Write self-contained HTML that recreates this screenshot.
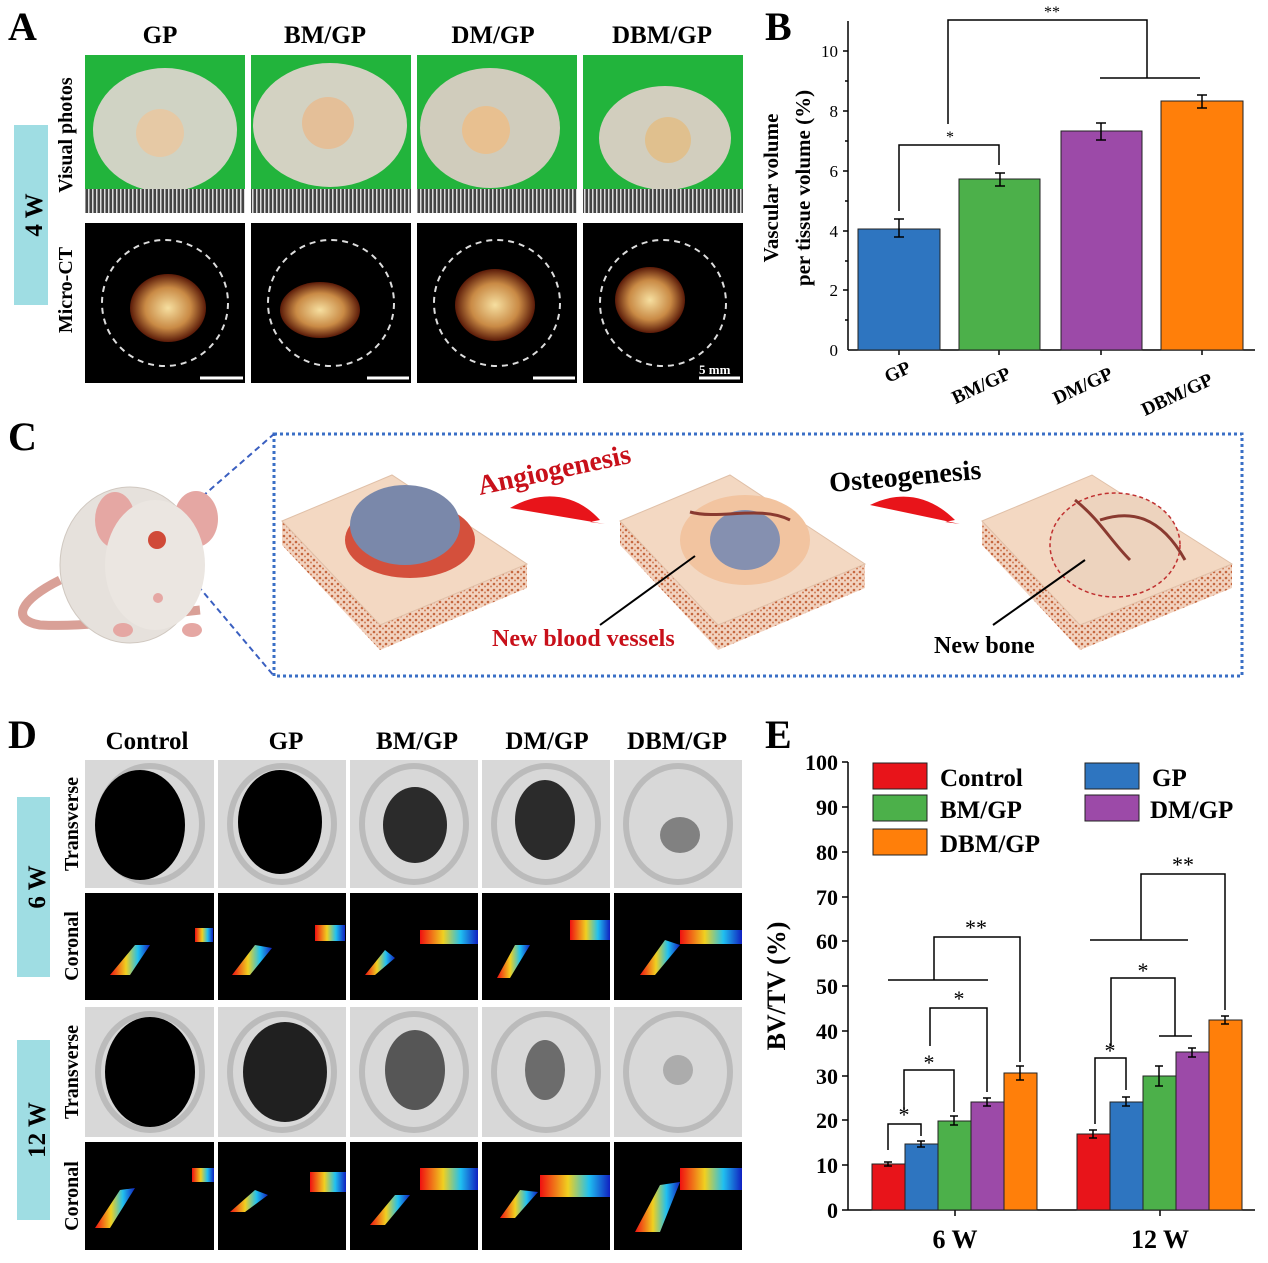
<!DOCTYPE html>
<html><head><meta charset="utf-8"><style>
body{margin:0;background:#fff}
svg{display:block;font-family:"Liberation Serif",serif}
.b{font-weight:bold}
</style></head><body>
<svg width="1268" height="1263" viewBox="0 0 1268 1263" xmlns="http://www.w3.org/2000/svg">
<defs>
<pattern id="sp" width="6" height="6" patternUnits="userSpaceOnUse"><rect width="6" height="6" fill="#f2d3c0"/><circle cx="2" cy="2" r="1.3" fill="#c5673f"/><circle cx="5" cy="4.5" r="1" fill="#d07c55"/></pattern>
<radialGradient id="bone" cx="50%" cy="50%" r="50%"><stop offset="0" stop-color="#f6dfa0"/><stop offset=".6" stop-color="#c98a45"/><stop offset="1" stop-color="#5a1a08"/></radialGradient>
<linearGradient id="jet" x1="0" x2="1"><stop offset="0" stop-color="#f01010"/><stop offset=".4" stop-color="#f0d020"/><stop offset=".7" stop-color="#20c0f0"/><stop offset="1" stop-color="#1020c0"/></linearGradient>
<pattern id="rul" width="4" height="25" patternUnits="userSpaceOnUse"><rect width="4" height="25" fill="#444"/><rect width="1.5" height="25" fill="#ddd"/></pattern>
</defs>

<!-- Panel A -->
<text x="8" y="40" font-size="40" class="b">A</text>
<g font-size="25" class="b" text-anchor="middle">
<text x="160" y="43">GP</text><text x="325" y="43">BM/GP</text><text x="493" y="43">DM/GP</text><text x="662" y="43">DBM/GP</text></g>
<rect x="14" y="125" width="34" height="180" fill="#9fdde3"/>
<text transform="translate(42,215) rotate(-90)" font-size="25" class="b" text-anchor="middle">4 W</text>
<text transform="translate(72,135) rotate(-90)" font-size="20" class="b" text-anchor="middle">Visual photos</text>
<text transform="translate(72,290) rotate(-90)" font-size="20" class="b" text-anchor="middle">Micro-CT</text>
<g>
<rect x="85" y="55" width="160" height="158" fill="#22b43c"/><rect x="251" y="55" width="160" height="158" fill="#22b43c"/><rect x="417" y="55" width="160" height="158" fill="#22b43c"/><rect x="583" y="55" width="160" height="158" fill="#22b43c"/>
<ellipse cx="165" cy="130" rx="72" ry="62" fill="#d0d3c4"/><ellipse cx="330" cy="125" rx="77" ry="62" fill="#d3d2c2"/><ellipse cx="490" cy="128" rx="70" ry="60" fill="#d0ccbc"/><ellipse cx="665" cy="138" rx="66" ry="52" fill="#d2cebe"/>
<rect x="85" y="189" width="160" height="24" fill="url(#rul)"/><rect x="251" y="189" width="160" height="24" fill="url(#rul)"/><rect x="417" y="189" width="160" height="24" fill="url(#rul)"/><rect x="583" y="189" width="160" height="24" fill="url(#rul)"/>
<circle cx="160" cy="133" r="24" fill="#e6c9a5"/><circle cx="328" cy="123" r="26" fill="#e4bf98"/><circle cx="486" cy="130" r="24" fill="#e8c090"/><circle cx="668" cy="140" r="23" fill="#e0c08e"/>
<rect x="85" y="223" width="160" height="160" fill="#000"/><rect x="251" y="223" width="160" height="160" fill="#000"/><rect x="417" y="223" width="160" height="160" fill="#000"/><rect x="583" y="223" width="160" height="160" fill="#000"/>
<g fill="none" stroke="#ddd" stroke-width="2" stroke-dasharray="6,5">
<circle cx="165" cy="303" r="63"/><circle cx="331" cy="303" r="63"/><circle cx="497" cy="303" r="63"/><circle cx="663" cy="303" r="63"/></g>
<ellipse cx="168" cy="308" rx="38" ry="34" fill="url(#bone)"/><ellipse cx="320" cy="310" rx="40" ry="28" fill="url(#bone)"/><ellipse cx="495" cy="305" rx="40" ry="36" fill="url(#bone)"/><ellipse cx="650" cy="300" rx="35" ry="33" fill="url(#bone)"/>
<g stroke="#fff" stroke-width="3"><line x1="200" y1="378" x2="243" y2="378"/><line x1="367" y1="378" x2="409" y2="378"/><line x1="533" y1="378" x2="575" y2="378"/><line x1="699" y1="378" x2="740" y2="378"/></g>
<text x="699" y="374" font-size="13" fill="#fff" class="b">5 mm</text>
</g>

<!-- Panel B -->
<text x="765" y="40" font-size="40" class="b">B</text>
<g stroke="#000" stroke-width="1.5" fill="none">
<line x1="848" y1="21" x2="848" y2="350"/><line x1="848" y1="350" x2="1255" y2="350"/>
<line x1="848" y1="51" x2="843" y2="51"/><line x1="848" y1="111" x2="843" y2="111"/><line x1="848" y1="171" x2="843" y2="171"/><line x1="848" y1="231" x2="843" y2="231"/><line x1="848" y1="290" x2="843" y2="290"/>
<line x1="848" y1="81" x2="845" y2="81"/><line x1="848" y1="141" x2="845" y2="141"/><line x1="848" y1="201" x2="845" y2="201"/><line x1="848" y1="261" x2="845" y2="261"/><line x1="848" y1="320" x2="845" y2="320"/>
<path d="M899 350v5M999 350v5M1101 350v5M1202 350v5"/>
</g>
<g font-size="17" text-anchor="end"><text x="838" y="57">10</text><text x="838" y="117">8</text><text x="838" y="177">6</text><text x="838" y="237">4</text><text x="838" y="296">2</text><text x="838" y="356">0</text></g>
<text transform="translate(778,188) rotate(-90)" font-size="21" class="b" text-anchor="middle">Vascular volume</text>
<text transform="translate(810,188) rotate(-90)" font-size="21" class="b" text-anchor="middle">per tissue volume (%)</text>
<g stroke="#222" stroke-width="1">
<rect x="858" y="229" width="82" height="121" fill="#2e75c0"/><rect x="959" y="179" width="81" height="171" fill="#4cb04a"/><rect x="1061" y="131" width="81" height="219" fill="#9c4aa8"/><rect x="1161" y="101" width="82" height="249" fill="#ff7f0a"/></g>
<g stroke="#000" stroke-width="1.5" fill="none">
<path d="M899 219v18M894 219h10M894 237h10"/><path d="M1000 173v13M995 173h10M995 186h10"/><path d="M1101 123v17M1096 123h10M1096 140h10"/><path d="M1202 95v13M1197 95h10M1197 108h10"/>
<path d="M899 211V145H999V165"/><path d="M1100 78H1200"/><path d="M948 124V20H1147V78"/>
</g>
<text x="950" y="142" font-size="16" text-anchor="middle">*</text><text x="1052" y="17" font-size="16" text-anchor="middle">**</text>
<g font-size="19" class="b" text-anchor="end">
<text transform="translate(912,372) rotate(-25)">GP</text><text transform="translate(1012,378) rotate(-25)">BM/GP</text><text transform="translate(1114,378) rotate(-25)">DM/GP</text><text transform="translate(1214,384) rotate(-25)">DBM/GP</text></g>

<!-- Panel C -->
<text x="8" y="450" font-size="40" class="b">C</text>
<rect x="274" y="434" width="968" height="242" fill="none" stroke="#3a6fc6" stroke-width="3" stroke-dasharray="3,3"/>
<g stroke="#3a5fc0" stroke-width="2" stroke-dasharray="6,4" fill="none"><line x1="172" y1="523" x2="274" y2="434"/><line x1="172" y1="555" x2="274" y2="676"/><rect x="142" y="523" width="30" height="32"/></g>
<!-- mouse -->
<path d="M60 580 C20 600 10 620 40 625 C100 628 150 615 200 610" fill="none" stroke="#d9a097" stroke-width="9"/>
<ellipse cx="130" cy="565" rx="70" ry="78" fill="#e6e1dc" stroke="#d0c8c0"/>
<ellipse cx="115" cy="520" rx="20" ry="28" fill="#e5a7a3"/><ellipse cx="196" cy="519" rx="22" ry="28" fill="#e5a7a3"/>
<ellipse cx="155" cy="565" rx="50" ry="65" fill="#ebe6e1"/>
<circle cx="157" cy="540" r="9" fill="#d04a38"/>
<circle cx="158" cy="598" r="5" fill="#e5a7a3"/>
<ellipse cx="123" cy="630" rx="10" ry="7" fill="#e5a7a3"/><ellipse cx="192" cy="630" rx="10" ry="7" fill="#e5a7a3"/>
<!-- slabs -->
<g>
<polygon points="282,521 282,545 380,650 527,588 527,564 380,625" fill="url(#sp)"/>
<polygon points="282,521 392,475 527,564 380,625" fill="#f3d8c2" stroke="#e0c0a8"/>
<ellipse cx="410" cy="540" rx="65" ry="38" fill="#d4503c"/>
<ellipse cx="405" cy="525" rx="55" ry="40" fill="#7a88aa"/>
<polygon points="620,521 620,545 718,650 865,588 865,564 718,625" fill="url(#sp)"/>
<polygon points="620,521 730,475 865,564 718,625" fill="#f3d8c2" stroke="#e0c0a8"/>
<ellipse cx="745" cy="540" rx="65" ry="45" fill="#f2c4a0"/>
<ellipse cx="745" cy="540" rx="35" ry="30" fill="#8590b0"/>
<polygon points="982,521 982,545 1080,650 1232,588 1232,564 1080,625" fill="url(#sp)"/>
<polygon points="982,521 1092,475 1232,564 1080,625" fill="#f3d8c2" stroke="#e0c0a8"/>
<ellipse cx="1115" cy="545" rx="65" ry="52" fill="#edd3be" stroke="#c03030" stroke-dasharray="4,3" stroke-width="1.5"/>
<path d="M1075 500 C1100 520 1110 540 1130 560 M1100 520 C1130 510 1160 515 1185 560" stroke="#8a3a30" stroke-width="3" fill="none"/>
<path d="M690 512 C720 520 760 505 790 520" stroke="#8a3a30" stroke-width="3" fill="none"/>
</g>
<path d="M510 508 C540 490 575 492 600 520 L590 522 L605 524" fill="#e8141a"/>
<path d="M870 505 C900 490 930 495 955 520 L945 522 L960 524" fill="#e8141a"/>
<text transform="translate(480,495) rotate(-12)" font-size="28" class="b" fill="#c8101a">Angiogenesis</text>
<text transform="translate(830,492) rotate(-5)" font-size="28" class="b">Osteogenesis</text>
<line x1="600" y1="625" x2="695" y2="556" stroke="#000" stroke-width="2"/>
<line x1="993" y1="625" x2="1085" y2="560" stroke="#000" stroke-width="2"/>
<text x="492" y="646" font-size="24" class="b" fill="#c8101a">New blood vessels</text>
<text x="934" y="653" font-size="24" class="b">New bone</text>

<!-- Panel D -->
<text x="8" y="748" font-size="40" class="b">D</text>
<g font-size="25" class="b" text-anchor="middle">
<text x="147" y="749">Control</text><text x="286" y="749">GP</text><text x="417" y="749">BM/GP</text><text x="547" y="749">DM/GP</text><text x="677" y="749">DBM/GP</text></g>
<rect x="17" y="797" width="33" height="180" fill="#9fdde3"/><rect x="17" y="1040" width="33" height="180" fill="#9fdde3"/>
<text transform="translate(45,887) rotate(-90)" font-size="25" class="b" text-anchor="middle">6 W</text>
<text transform="translate(45,1130) rotate(-90)" font-size="25" class="b" text-anchor="middle">12 W</text>
<g font-size="20" class="b" text-anchor="middle">
<text transform="translate(78,824) rotate(-90)">Transverse</text><text transform="translate(78,946) rotate(-90)">Coronal</text>
<text transform="translate(78,1072) rotate(-90)">Transverse</text><text transform="translate(78,1196) rotate(-90)">Coronal</text></g>
<g>
<g fill="#d8d8d8"><rect x="85" y="760" width="129" height="128"/><rect x="218" y="760" width="128" height="128"/><rect x="350" y="760" width="128" height="128"/><rect x="482" y="760" width="128" height="128"/><rect x="614" y="760" width="128" height="128"/>
<rect x="85" y="1007" width="129" height="130"/><rect x="218" y="1007" width="128" height="130"/><rect x="350" y="1007" width="128" height="130"/><rect x="482" y="1007" width="128" height="130"/><rect x="614" y="1007" width="128" height="130"/></g>
<g fill="none" stroke="#bbb" stroke-width="6"><ellipse cx="150" cy="824" rx="52" ry="58"/><ellipse cx="282" cy="824" rx="52" ry="58"/><ellipse cx="414" cy="824" rx="52" ry="58"/><ellipse cx="546" cy="824" rx="52" ry="58"/><ellipse cx="678" cy="824" rx="52" ry="58"/>
<ellipse cx="150" cy="1072" rx="52" ry="58"/><ellipse cx="282" cy="1072" rx="52" ry="58"/><ellipse cx="414" cy="1072" rx="52" ry="58"/><ellipse cx="546" cy="1072" rx="52" ry="58"/><ellipse cx="678" cy="1072" rx="52" ry="58"/></g>
<g fill="#000"><ellipse cx="140" cy="825" rx="45" ry="55"/><ellipse cx="280" cy="822" rx="42" ry="52"/><ellipse cx="415" cy="825" rx="32" ry="38" opacity=".8"/><ellipse cx="545" cy="820" rx="30" ry="40" opacity=".8"/><ellipse cx="680" cy="835" rx="20" ry="18" opacity=".4"/>
<ellipse cx="150" cy="1072" rx="45" ry="55"/><ellipse cx="285" cy="1072" rx="42" ry="50" opacity=".85"/><ellipse cx="415" cy="1070" rx="30" ry="40" opacity=".6"/><ellipse cx="545" cy="1070" rx="20" ry="30" opacity=".5"/><ellipse cx="678" cy="1070" rx="15" ry="15" opacity=".2"/></g>
<g fill="#000"><rect x="85" y="893" width="129" height="107"/><rect x="218" y="893" width="128" height="107"/><rect x="350" y="893" width="128" height="107"/><rect x="482" y="893" width="128" height="107"/><rect x="614" y="893" width="128" height="107"/>
<rect x="85" y="1142" width="129" height="108"/><rect x="218" y="1142" width="128" height="108"/><rect x="350" y="1142" width="128" height="108"/><rect x="482" y="1142" width="128" height="108"/><rect x="614" y="1142" width="128" height="108"/></g>
<g fill="url(#jet)">
<polygon points="110,975 135,945 150,945 130,975"/><rect x="195" y="928" width="18" height="14"/>
<polygon points="232,975 255,945 272,948 250,975"/><rect x="315" y="925" width="30" height="16"/>
<polygon points="365,975 385,950 395,958 375,975"/><rect x="420" y="930" width="58" height="14"/>
<polygon points="497,978 515,945 530,945 510,978"/><rect x="570" y="920" width="40" height="20"/>
<polygon points="640,975 665,940 680,945 655,975"/><rect x="680" y="930" width="62" height="14"/>
<polygon points="95,1228 120,1190 135,1188 110,1228"/><rect x="192" y="1168" width="22" height="14"/>
<polygon points="230,1212 255,1190 268,1195 245,1212"/><rect x="310" y="1172" width="36" height="20"/>
<polygon points="370,1225 395,1195 410,1195 385,1225"/><rect x="420" y="1168" width="58" height="22"/>
<polygon points="500,1218 520,1190 538,1192 515,1218"/><rect x="540" y="1175" width="70" height="22"/>
<polygon points="635,1232 660,1185 680,1182 660,1232"/><rect x="680" y="1168" width="62" height="22"/>
</g>
</g>

<!-- Panel E -->
<text x="765" y="748" font-size="40" class="b">E</text>
<g stroke="#000" stroke-width="1.5" fill="none">
<line x1="848" y1="762" x2="848" y2="1210"/><line x1="848" y1="1210" x2="1255" y2="1210"/>
<path d="M848 762h-6M848 807h-6M848 852h-6M848 897h-6M848 941h-6M848 986h-6M848 1031h-6M848 1076h-6M848 1120h-6M848 1165h-6M848 1210h-6"/>
<path d="M955 1210v6M1160 1210v6"/>
</g>
<g font-size="22" class="b" text-anchor="end">
<text x="838" y="770">100</text><text x="838" y="815">90</text><text x="838" y="860">80</text><text x="838" y="905">70</text><text x="838" y="949">60</text><text x="838" y="994">50</text><text x="838" y="1039">40</text><text x="838" y="1084">30</text><text x="838" y="1128">20</text><text x="838" y="1173">10</text><text x="838" y="1218">0</text></g>
<text transform="translate(785,986) rotate(-90)" font-size="26" class="b" text-anchor="middle">BV/TV (%)</text>
<g font-size="26" class="b" text-anchor="middle"><text x="955" y="1248">6 W</text><text x="1160" y="1248">12 W</text></g>
<g stroke="#222" stroke-width="1">
<rect x="872" y="1164" width="33" height="46" fill="#e8141a"/><rect x="905" y="1144" width="33" height="66" fill="#2e75c0"/><rect x="938" y="1121" width="33" height="89" fill="#4cb04a"/><rect x="971" y="1102" width="33" height="108" fill="#9c4aa8"/><rect x="1004" y="1073" width="33" height="137" fill="#ff7f0a"/>
<rect x="1077" y="1134" width="33" height="76" fill="#e8141a"/><rect x="1110" y="1102" width="33" height="108" fill="#2e75c0"/><rect x="1143" y="1076" width="33" height="134" fill="#4cb04a"/><rect x="1176" y="1052" width="33" height="158" fill="#9c4aa8"/><rect x="1209" y="1020" width="33" height="190" fill="#ff7f0a"/>
</g>
<g stroke="#000" stroke-width="1.5" fill="none">
<path d="M888 1162v4M884 1162h8M884 1166h8M921 1141v6M917 1141h8M917 1147h8M954 1116v9M950 1116h8M950 1125h8M987 1098v8M983 1098h8M983 1106h8M1020 1066v14M1016 1066h8M1016 1080h8"/>
<path d="M1093 1130v8M1089 1130h8M1089 1138h8M1126 1097v9M1122 1097h8M1122 1106h8M1159 1066v20M1155 1066h8M1155 1086h8M1192 1048v9M1188 1048h8M1188 1057h8M1225 1016v8M1221 1016h8M1221 1024h8"/>
<path d="M888 1150V1124H921V1136"/><path d="M904 1110V1070H954V1112"/><path d="M930 1046V1008H987V1092"/><path d="M888 980H988"/><path d="M934 980V937H1020V1062"/>
<path d="M1095 1124V1058H1126V1090"/><path d="M1111 1046V978H1175V1036M1159 1036H1192"/><path d="M1090 940H1188"/><path d="M1141 940V874H1225V1010"/>
</g>
<g font-size="22" text-anchor="middle"><text x="904" y="1122">*</text><text x="929" y="1070">*</text><text x="959" y="1006">*</text><text x="976" y="935">**</text><text x="1110" y="1058">*</text><text x="1143" y="978">*</text><text x="1183" y="872">**</text></g>
<g stroke="#222" stroke-width="1">
<rect x="873" y="763" width="54" height="26" fill="#e8141a"/><rect x="873" y="795" width="54" height="26" fill="#4cb04a"/><rect x="873" y="829" width="54" height="26" fill="#ff7f0a"/>
<rect x="1085" y="763" width="54" height="26" fill="#2e75c0"/><rect x="1085" y="795" width="54" height="26" fill="#9c4aa8"/></g>
<g font-size="25" class="b"><text x="940" y="786">Control</text><text x="940" y="818">BM/GP</text><text x="940" y="852">DBM/GP</text><text x="1152" y="786">GP</text><text x="1150" y="818">DM/GP</text></g>
</svg>
</body></html>
